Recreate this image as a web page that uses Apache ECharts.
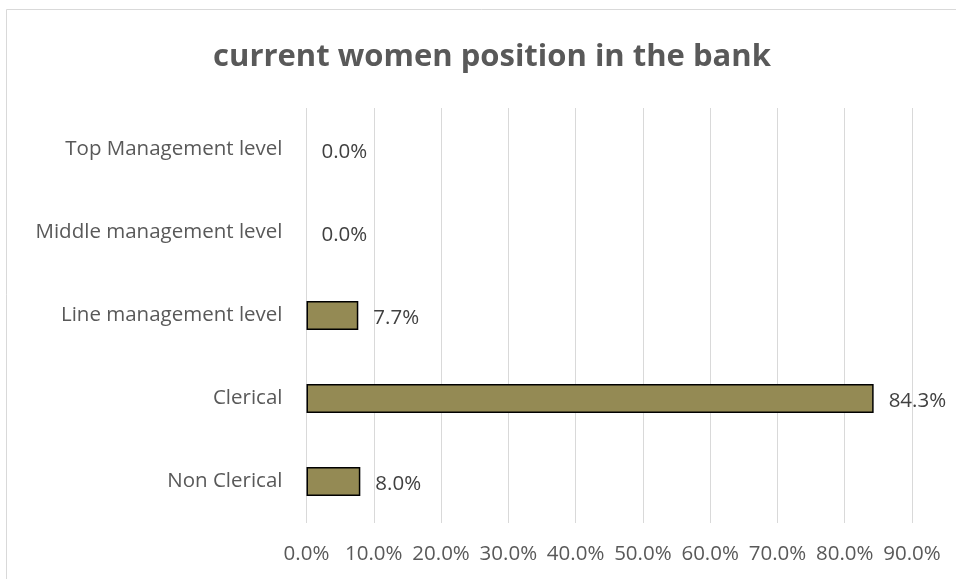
<!DOCTYPE html>
<html>
<head>
<meta charset="utf-8">
<script src="https://cdn.jsdelivr.net/npm/echarts@6/dist/echarts.min.js"></script>
<style>
  html, body { margin: 0; padding: 0; background: #fff; }
  #chart { width: 956px; height: 579px; }
</style>
</head>
<body>
<div id="chart"></div>
<script>
// Position levels, listed bottom to top as drawn on the category axis
const categories = ['Non Clerical', 'Clerical', 'Line management level', 'Middle management level', 'Top Management level'];
// Share of women at each level (percent)
const shares = [8.0, 84.3, 7.7, 0.0, 0.0];
// Value axis tick range (percent)
const axisMin = 0;
const axisMax = 90;
const axisStep = 10;

const chart = echarts.init(document.getElementById('chart'));
const font = '"Open Sans", "Liberation Sans", sans-serif';

// Zero-length bars carry no outline
const barData = shares.map(v => v === 0 ? { value: v, itemStyle: { borderWidth: 0 } } : v);

chart.setOption({
  animation: false,
  backgroundColor: '#ffffff',
  title: {
    text: 'current women position in the bank',
    left: 487,
    textAlign: 'center',
    top: 37,
    textStyle: { fontFamily: font, fontSize: 31, fontWeight: 'bold', color: '#595959' }
  },
  graphic: [{
    type: 'rect',
    shape: { x: 6.5, y: 9.5, width: 1000, height: 700 },
    style: { fill: 'none', stroke: '#d9d9d9', lineWidth: 1 },
    silent: true,
    z: -1
  }],
  grid: { left: 306.5, right: 44, top: 108, bottom: 56, containLabel: false },
  xAxis: {
    type: 'value',
    min: axisMin,
    max: axisMax,
    interval: axisStep,
    axisLine: { show: false },
    axisTick: { show: false },
    splitLine: { show: true, lineStyle: { color: '#d9d9d9', width: 1 } },
    axisLabel: {
      formatter: v => v.toFixed(1) + '%',
      fontFamily: font, fontSize: 20.5, color: '#595959', margin: 21
    }
  },
  yAxis: {
    type: 'category',
    data: categories,
    axisLine: { show: false },
    axisTick: { show: false },
    axisLabel: { fontFamily: font, fontSize: 20.5, color: '#595959', margin: 24, padding: [5, 0, 0, 0] }
  },
  series: [{
    type: 'bar',
    data: barData,
    barWidth: 29,
    itemStyle: { color: '#948A54', borderColor: '#000000', borderWidth: 1.5 },
    label: {
      show: true,
      position: 'right',
      distance: 15,
      offset: [0, 2.5],
      formatter: p => p.value.toFixed(1) + '%',
      fontFamily: font, fontSize: 20.5, color: '#404040'
    }
  }]
});
</script>
</body>
</html>
